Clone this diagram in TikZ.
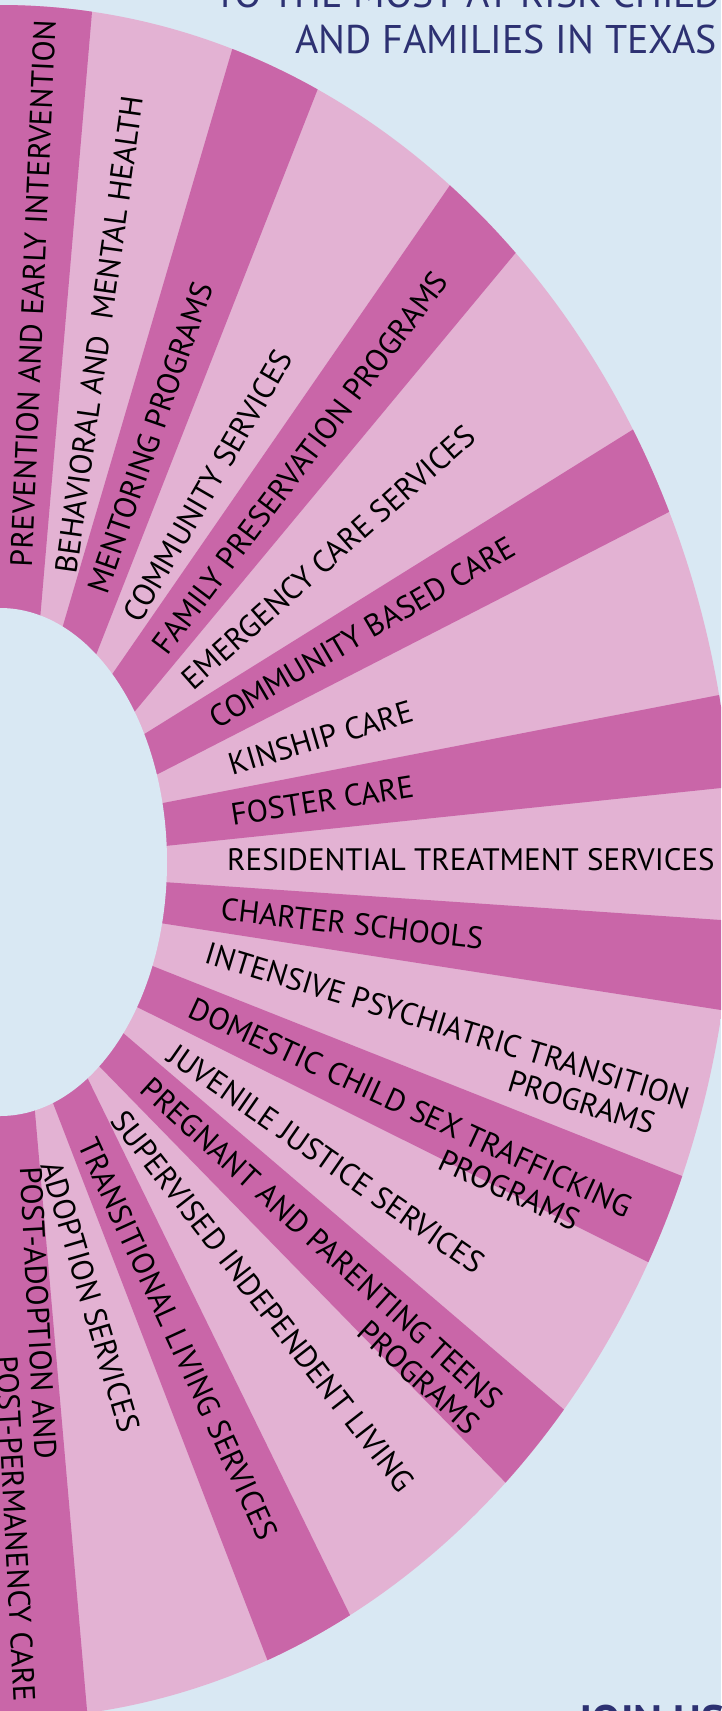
\documentclass[tikz,border=0pt]{standalone}
\usepackage{fontspec}
\setmainfont{PT Sans}
\usetikzlibrary{calc}

\definecolor{bgblue}{HTML}{D9E8F3}
\definecolor{darkpink}{HTML}{C966A8}
\definecolor{lightpink}{HTML}{E3B2D3}
\definecolor{navy}{HTML}{2D3172}

\tikzset{
	slicetext/.style={anchor=west, inner sep=0pt, font=\fontsize{31}{34}\selectfont},
	twoline/.style={slicetext, anchor=north west, align=right},
	headline/.style={inner sep=0pt, text=navy, font=\fontsize{40}{44}\selectfont}
}

\begin{document}
\begin{tikzpicture}[x=1pt, y=-1pt]
	\def\cy{862} %centre of the fan

	\useasboundingbox (0,0) rectangle (721,1711);
	\clip (0,0) rectangle (721,1711);
	\fill[bgblue] (0,0) rectangle (721,1711);

	%borders between the slices: inner and outer point
	\coordinate (i1) at (40,620);   \coordinate (o1) at (92,12);
	\coordinate (i2) at (62,629);   \coordinate (o2) at (232,50);
	\coordinate (i3) at (96,655);   \coordinate (o3) at (317,91);
	\coordinate (i4) at (113,673);  \coordinate (o4) at (448,188);
	\coordinate (i5) at (136,710);  \coordinate (o5) at (513,256);
	\coordinate (i6) at (146,733);  \coordinate (o6) at (629,432);
	\coordinate (i7) at (156,775);  \coordinate (o7) at (665,514);
	\coordinate (i8) at (163,803);  \coordinate (o8) at (714,696);
	\coordinate (i9) at (165,846);  \coordinate (o9) at (721,788);
	\coordinate (i10) at (163,882); \coordinate (o10) at (721,920);
	\coordinate (i11) at (160,923); \coordinate (o11) at (721,1010);
	\coordinate (i12) at (150,965); \coordinate (o12) at (677,1174);
	\coordinate (i13) at (137,1007); \coordinate (o13) at (644,1260);
	\coordinate (i14) at (122,1032); \coordinate (o14) at (561,1407);
	\coordinate (i15) at (98,1065);  \coordinate (o15) at (503,1480);
	\coordinate (i16) at (87,1077);  \coordinate (o16) at (349,1613);
	\coordinate (i17) at (53,1103);  \coordinate (o17) at (267,1659);
	\coordinate (i18) at (35,1112);  \coordinate (o18) at (87,1710);

	%Faecher
	\begin{scope}
		\clip (0,\cy) ellipse [x radius=733pt, y radius=857pt];
		\fill[lightpink] (0,0) rectangle (721,1711);
		\fill[darkpink] (-10,\cy) -- (-10,-100) -- ($(i1)!1.6!(o1)$) -- ($(o1)!1.2!(i1)$) -- cycle;
		\fill[darkpink] ($(o2)!1.2!(i2)$) -- ($(i2)!1.6!(o2)$) -- ($(i3)!1.6!(o3)$) -- ($(o3)!1.2!(i3)$) -- cycle;
		\fill[darkpink] ($(o4)!1.2!(i4)$) -- ($(i4)!1.6!(o4)$) -- ($(i5)!1.6!(o5)$) -- ($(o5)!1.2!(i5)$) -- cycle;
		\fill[darkpink] ($(o6)!1.2!(i6)$) -- ($(i6)!1.6!(o6)$) -- ($(i7)!1.6!(o7)$) -- ($(o7)!1.2!(i7)$) -- cycle;
		\fill[darkpink] ($(o8)!1.2!(i8)$) -- ($(i8)!1.6!(o8)$) -- ($(i9)!1.6!(o9)$) -- ($(o9)!1.2!(i9)$) -- cycle;
		\fill[darkpink] ($(o10)!1.2!(i10)$) -- ($(i10)!1.6!(o10)$) -- ($(i11)!1.6!(o11)$) -- ($(o11)!1.2!(i11)$) -- cycle;
		\fill[darkpink] ($(o12)!1.2!(i12)$) -- ($(i12)!1.6!(o12)$) -- ($(i13)!1.6!(o13)$) -- ($(o13)!1.2!(i13)$) -- cycle;
		\fill[darkpink] ($(o14)!1.2!(i14)$) -- ($(i14)!1.6!(o14)$) -- ($(i15)!1.6!(o15)$) -- ($(o15)!1.2!(i15)$) -- cycle;
		\fill[darkpink] ($(o16)!1.2!(i16)$) -- ($(i16)!1.6!(o16)$) -- ($(i17)!1.6!(o17)$) -- ($(o17)!1.2!(i17)$) -- cycle;
		\fill[darkpink] ($(o18)!1.2!(i18)$) -- ($(i18)!1.6!(o18)$) -- (-10,1800) -- (-10,\cy) -- cycle;
	\end{scope}
	\fill[bgblue] (0,\cy) ellipse [x radius=167pt, y radius=254pt];

	%Beschriftung
	\node[slicetext, rotate=87.5] (prevention) at (21,567) {PREVENTION AND EARLY INTERVENTION};
	\node[slicetext, rotate=82] (behavioral) at (66,573) {BEHAVIORAL AND \ MENTAL HEALTH};
	\node[slicetext, rotate=71] (mentoring) at (97,592) {MENTORING PROGRAMS};
	\node[slicetext, rotate=60] (community) at (131,619) {COMMUNITY SERVICES};
	\node[slicetext, rotate=53] (family) at (159,650) {FAMILY PRESERVATION PROGRAMS};
	\node[slicetext, rotate=41.5] (emergency) at (186,683) {EMERGENCY CARE SERVICES};
	\node[slicetext, rotate=30.3] (based) at (212,720) {COMMUNITY BASED CARE};
	\node[slicetext, rotate=16.5] (kinship) at (229,765) {KINSHIP CARE};
	\node[slicetext, rotate=9] (foster) at (231,815) {FOSTER CARE};
	\node[slicetext] (residential) at (227,860) {RESIDENTIAL TREATMENT SERVICES};
	\node[slicetext, rotate=-6.5] (charter) at (221,909) {CHARTER SCHOOLS};
	\node[twoline, rotate=-17] (intensive) at (210,941) {INTENSIVE PSYCHIATRIC TRANSITION\\PROGRAMS\hspace*{26pt}};
	\node[twoline, rotate=-24.7] (domestic) at (196,996) {DOMESTIC CHILD SEX TRAFFICKING\\PROGRAMS\hspace*{42pt}};
	\node[slicetext, rotate=-34.9] (juvenile) at (172,1051) {JUVENILE JUSTICE SERVICES};
	\node[twoline, rotate=-42.2] (pregnant) at (153,1075) {PREGNANT AND PARENTING TEENS\\PROGRAMS};
	\node[slicetext, rotate=-52.1] (supervised) at (118,1115) {SUPERVISED INDEPENDENT LIVING};
	\node[slicetext, rotate=-65.4] (transitional) at (87,1140) {TRANSITIONAL LIVING SERVICES};
	\node[slicetext, rotate=-73.6] (adoption) at (51,1162) {ADOPTION SERVICES};
	\node[twoline, align=left, rotate=-87] (postadoption) at (42,1166) {POST-ADOPTION AND\\\hspace*{188pt}POST-PERMANENCY CARE};

	%Titel
	\node[headline, anchor=base west] (atrisk) at (214,7) {TO THE MOST AT-RISK CHILD};
	\node[headline, anchor=base east] (texas) at (717,53) {AND FAMILIES IN TEXAS};
	\node[headline, anchor=north west, font=\fontsize{44}{48}\bfseries] (joinus) at (577,1705) {JOIN US};

\end{tikzpicture}
\end{document}
